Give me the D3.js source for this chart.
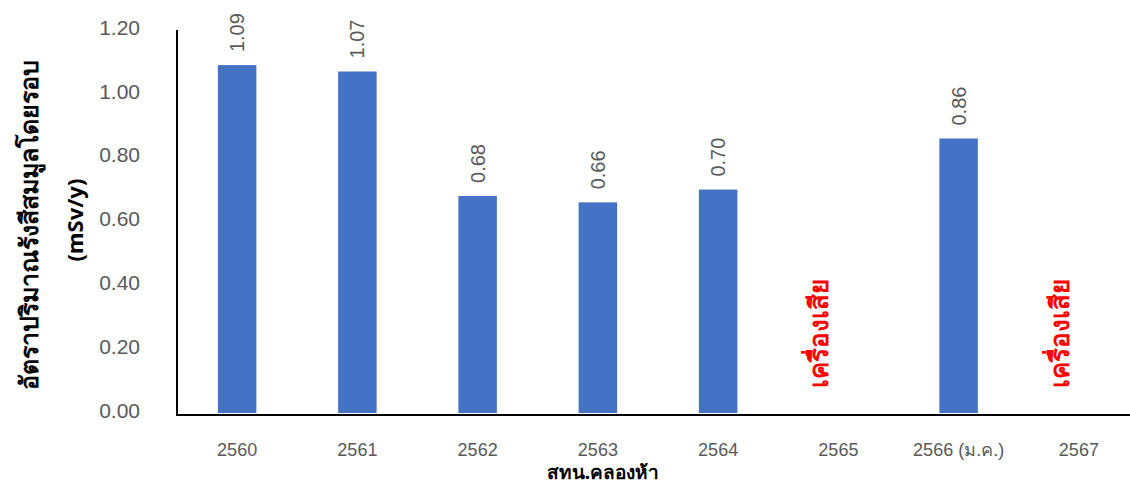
<!DOCTYPE html>
<html><head><meta charset="utf-8">
<script src="https://cdn.jsdelivr.net/npm/d3@7"></script>
<style>body{margin:0;background:#fff;}svg{display:block;}</style>
</head><body><svg id="c" width="1130" height="486"></svg>
<script>
const categories = ["2560","2561","2562","2563","2564","2565","2566 (ม.ค.)","2567"];
const values = [1.09, 1.07, 0.68, 0.66, 0.70, null, 0.86, null];
const brokenLabel = "เครื่องเสีย";
const yTicks = [0, 0.2, 0.4, 0.6, 0.8, 1.0, 1.2];
const yTitle1 = "อัตราปริมาณรังสีสมมูลโดยรอบ";
const yTitle2 = "(mSv/y)";
const xTitle = "สทน.คลองห้า";

const svg = d3.select("#c");
const x = d3.scaleBand().domain(categories).range([177, 1139]).paddingInner(0.68).paddingOuter(0.34);
const y = d3.scaleLinear().domain([0, 1.2]).range([413, 30]);
const font = "'Liberation Sans', 'Noto Sans', sans-serif";
const thai = "'Noto Sans', 'Liberation Sans', sans-serif";

const data = categories.map((c,i)=>({c, v: values[i]}));
svg.selectAll("rect.bar").data(data.filter(d=>d.v!=null)).enter().append("rect")
  .attr("x", d=>x(d.c)).attr("width", x.bandwidth())
  .attr("y", d=>y(d.v)).attr("height", d=>y(0)-y(d.v))
  .attr("fill", "#4472C4");

svg.selectAll("text.val").data(data.filter(d=>d.v!=null)).enter().append("text")
  .attr("transform", d=>`translate(${x(d.c)+x.bandwidth()/2+7},${y(d.v)-13}) rotate(-90)`)
  .attr("text-anchor","start")
  .attr("font-family", font).attr("font-size", 20).attr("fill", "#595959")
  .text(d=>d.v.toFixed(2));

svg.selectAll("text.broken").data(data.filter(d=>d.v==null)).enter().append("text")
  .attr("transform", d=>`translate(${x(d.c)+x.bandwidth()/2-10},${333}) rotate(-90)`)
  .attr("text-anchor","middle")
  .attr("font-family", thai).attr("font-size", 26).attr("font-weight","bold").attr("fill", "#FF0000")
  .text(brokenLabel);

const yAxis = d3.axisLeft(y).tickValues(yTicks).tickFormat(d3.format(".2f")).tickSize(0).tickPadding(37);
const gy = svg.append("g").attr("transform","translate(177,0)").call(yAxis);
gy.select(".domain").remove();
gy.selectAll("text").attr("font-family", font).attr("font-size", 21).attr("fill","#595959").attr("dy","0.2em");
svg.append("line").attr("x1",177).attr("x2",177).attr("y1",30).attr("y2",415).attr("stroke","#000").attr("stroke-width",2);

const xAxis = d3.axisBottom(x).tickSize(0).tickPadding(28);
const gx = svg.append("g").attr("transform","translate(0,415)").call(xAxis);
gx.select(".domain").remove();
gx.selectAll("text").attr("font-family", font).attr("font-size", 18).attr("fill","#595959");
svg.append("line").attr("x1",176).attr("x2",1130).attr("y1",415).attr("y2",415).attr("stroke","#000").attr("stroke-width",2);

svg.append("text").attr("transform","translate(38,225) rotate(-90)").attr("text-anchor","middle")
  .attr("font-family", thai).attr("font-size", 25).attr("font-weight","bold").attr("fill","#000").text(yTitle1);
svg.append("text").attr("transform","translate(83,220) rotate(-90)").attr("text-anchor","middle")
  .attr("font-family", thai).attr("font-size", 22).attr("font-weight","bold").attr("fill","#000").text(yTitle2);
svg.append("text").attr("x",603).attr("y",479).attr("text-anchor","middle")
  .attr("font-family", thai).attr("font-size", 19).attr("font-weight","bold").attr("fill","#000").text(xTitle);
</script></body></html>
